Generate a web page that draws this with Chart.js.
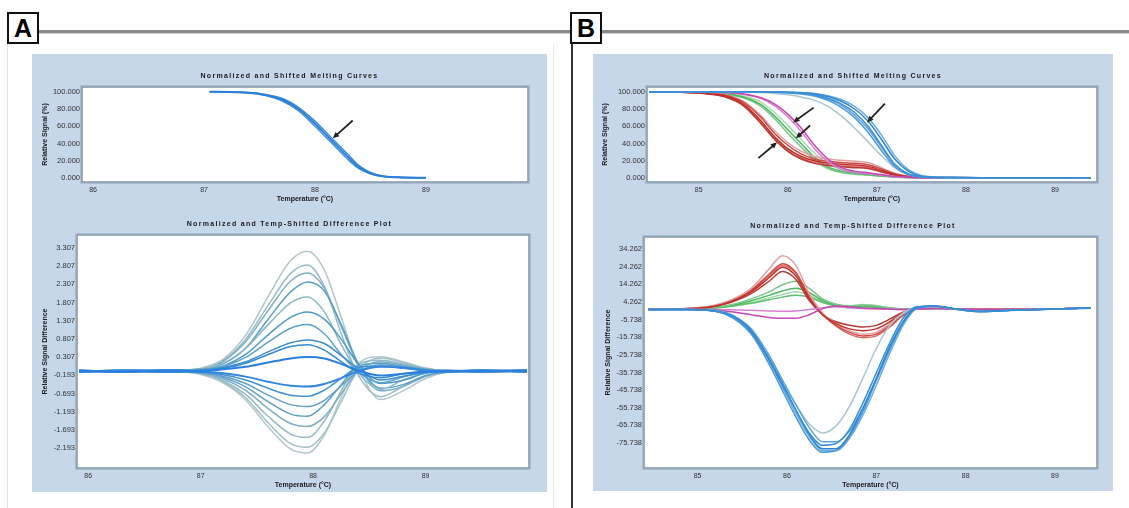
<!DOCTYPE html>
<html>
<head>
<meta charset="utf-8">
<script src="https://cdn.jsdelivr.net/npm/chart.js@4.4.1/dist/chart.umd.min.js"></script>
<style>
  body { margin: 0; width: 1129px; height: 508px; background: #fff; position: relative; overflow: hidden; }
  .panel { position: absolute; background: #c6d7ea; }
  .tag { position: absolute; width: 28px; height: 28px; border: 2px solid #111; background: #fff;
         font: bold 25px "Liberation Sans", Arial, sans-serif; line-height: 29px; text-align: center; color: #000; }
  .rule { position: absolute; }
  canvas { position: absolute; }
</style>
</head>
<body>
<div class="rule" style="left:39px;top:30px;width:1090px;height:3px;background:#8a8a8a"></div>
<div class="rule" style="left:39px;top:33px;width:1090px;height:1px;background:#cfcfcf"></div>
<div class="rule" style="left:571px;top:44px;width:2px;height:464px;background:#333"></div>
<div class="rule" style="left:7px;top:44px;width:1px;height:464px;background:#e2e2e2"></div>
<div class="rule" style="left:553px;top:44px;width:1px;height:464px;background:#e6e6e6"></div>
<div class="tag" style="left:7px;top:12px">A</div>
<div class="tag" style="left:570px;top:12px">B</div>

<div class="panel" style="left:32px;top:54px;width:515px;height:438px"></div>
<div class="panel" style="left:593px;top:54px;width:520px;height:437px"></div>

<canvas id="a-melt" width="515" height="150" style="left:32px;top:53px"></canvas>
<canvas id="a-diff" width="515" height="284" style="left:32px;top:205px"></canvas>
<canvas id="b-melt" width="520" height="150" style="left:593px;top:53px"></canvas>
<canvas id="b-diff" width="520" height="284" style="left:593px;top:205px"></canvas>

<script>
// Panel A and B: normalized melting curves (top) and difference plots (bottom).
// Values.

var xTicksA = [86, 87, 88, 89];
var xTicksB = [85, 86, 87, 88, 89];
var meltTicks = [0, 20, 40, 60, 80, 100];
var diffTicksA = [-2.193, -1.693, -1.193, -0.693, -0.193, 0.307, 0.807, 1.307, 1.807, 2.307, 2.807, 3.307];
var diffTicksB = [-75.738, -65.738, -55.738, -45.738, -35.738, -25.738, -15.738, -5.738, 4.262, 14.262, 24.262, 34.262];

// --- A, melting curves ---
var meltTempsA = [87.05, 87.3, 87.5, 87.7, 87.85, 88.0, 88.1, 88.2, 88.3, 88.4, 88.5, 88.6, 88.75, 89.0];
var meltA1 = [100, 99.5, 97.5, 91, 80, 63, 50, 37, 24, 12, 5.5, 2.2, 0.8, 0.3];
var meltA2 = [100, 99.6, 98, 92.5, 82, 66, 53, 40, 27, 14, 6.5, 2.6, 0.9, 0.3];
var meltA3 = [100, 99.4, 97, 89.5, 78, 60, 47, 34, 21, 10.5, 4.8, 1.9, 0.7, 0.3];

// --- A, difference plot ---
var diffTempsA = [85.92, 86.3, 86.7, 87.0, 87.2, 87.4, 87.6, 87.8, 87.95, 88.1, 88.25, 88.4, 88.6, 88.8, 89.0, 89.2, 89.5, 89.9];
var posA1 = [-0.05, -0.10, -0.09, 0.00, 0.25, 0.91, 1.97, 2.96, 3.22, 2.70, 1.40, 0.05, -0.86, -0.62, -0.28, -0.10, -0.06, -0.09];
var posA2 = [-0.10, -0.06, -0.11, -0.03, 0.21, 0.80, 1.73, 2.61, 2.84, 2.25, 0.95, -0.18, -0.78, -0.50, -0.22, -0.11, -0.09, -0.05];
var posA3 = [-0.07, -0.11, -0.06, -0.05, 0.19, 0.73, 1.59, 2.40, 2.62, 2.20, 1.15, 0.10, -0.62, -0.50, -0.22, -0.06, -0.10, -0.08];
var posA4 = [-0.11, -0.05, -0.09, -0.06, 0.12, 0.55, 1.35, 2.10, 2.37, 2.12, 1.20, 0.15, -0.55, -0.45, -0.20, -0.10, -0.07, -0.06];
var posA5 = [-0.06, -0.09, -0.05, -0.02, 0.14, 0.55, 1.20, 1.80, 1.96, 1.55, 0.65, -0.12, -0.58, -0.32, -0.12, -0.05, -0.10, -0.09];
var posA6 = [-0.09, -0.06, -0.10, -0.07, 0.06, 0.38, 0.92, 1.40, 1.55, 1.35, 0.80, 0.12, -0.42, -0.33, -0.14, -0.09, -0.05, -0.08];
var posA7 = [-0.10, -0.07, -0.06, -0.03, 0.05, 0.30, 0.72, 1.10, 1.20, 0.95, 0.38, -0.10, -0.40, -0.24, -0.10, -0.06, -0.09, -0.07];
var posA8 = [-0.06, -0.10, -0.08, -0.08, 0.02, 0.18, 0.45, 0.70, 0.78, 0.68, 0.35, 0.00, -0.32, -0.22, -0.11, -0.09, -0.06, -0.10];
var posA9 = [-0.09, -0.06, -0.11, -0.05, 0.00, 0.14, 0.38, 0.60, 0.65, 0.50, 0.18, -0.12, -0.26, -0.15, -0.08, -0.07, -0.10, -0.07];
var posA10 = [-0.07, -0.10, -0.07, -0.08, -0.03, 0.04, 0.16, 0.27, 0.31, 0.27, 0.12, -0.06, -0.20, -0.15, -0.10, -0.08, -0.06, -0.09];
var negA1 = [-0.10, -0.07, -0.05, -0.09, -0.14, -0.23, -0.37, -0.48, -0.50, -0.43, -0.27, -0.08, 0.04, 0.02, -0.06, -0.09, -0.08, -0.05];
var negA2 = [-0.06, -0.09, -0.10, -0.11, -0.18, -0.32, -0.55, -0.74, -0.77, -0.60, -0.28, 0.02, 0.06, 0.00, -0.07, -0.10, -0.06, -0.09];
var negA3 = [-0.09, -0.05, -0.08, -0.12, -0.22, -0.42, -0.74, -1.00, -1.05, -0.88, -0.48, -0.10, 0.10, 0.05, -0.04, -0.07, -0.10, -0.06];
var negA4 = [-0.05, -0.10, -0.07, -0.10, -0.25, -0.51, -0.92, -1.26, -1.32, -1.00, -0.45, 0.06, 0.14, 0.05, -0.03, -0.08, -0.07, -0.10];
var negA5 = [-0.11, -0.07, -0.09, -0.13, -0.29, -0.61, -1.11, -1.52, -1.60, -1.33, -0.70, -0.08, 0.18, 0.09, -0.02, -0.10, -0.05, -0.08];
var negA6 = [-0.07, -0.10, -0.06, -0.15, -0.34, -0.72, -1.32, -1.81, -1.90, -1.45, -0.62, 0.10, 0.22, 0.12, -0.01, -0.06, -0.09, -0.06];
var negA7 = [-0.09, -0.06, -0.10, -0.14, -0.37, -0.81, -1.50, -2.07, -2.17, -1.78, -0.92, -0.05, 0.28, 0.16, 0.00, -0.09, -0.07, -0.10];
var negA8 = [-0.06, -0.09, -0.07, -0.17, -0.40, -0.87, -1.61, -2.22, -2.33, -1.84, -0.80, 0.12, 0.32, 0.18, 0.01, -0.07, -0.10, -0.06];

// --- B, melting curves ---
var meltTempsB = [84.45, 84.8, 85.1, 85.3, 85.5, 85.7, 85.85, 86.0, 86.15, 86.3, 86.45, 86.6, 86.75, 86.9, 87.05, 87.2, 87.35, 87.5, 87.8, 88.3, 89.0, 89.4];
var meltBlue1 = [100, 100, 100, 100, 100, 99.8, 99.6, 99.2, 98.5, 96.5, 92.5, 86, 76, 60, 38, 16, 5, 1.5, 0.5, 0.3, 0.3, 0.2];
var meltBlue2 = [100, 100, 100, 100, 99.8, 99.6, 99.3, 98.7, 97.5, 95, 90, 82, 70, 53, 32, 13, 4, 1.2, 0.4, 0.3, 0.2, 0.2];
var meltBlue3 = [100, 100, 100, 100, 100, 99.9, 99.7, 99.4, 98.8, 97.5, 94.5, 89, 80, 66, 45, 22, 8, 2.2, 0.6, 0.4, 0.3, 0.3];
var meltBlue4 = [100, 100, 100, 100, 100, 99.8, 99.5, 99, 98, 96, 91.5, 84.5, 73, 57, 36, 15, 4.5, 1.4, 0.5, 0.3, 0.2, 0.2];
var meltBlue5 = [100, 100, 100, 100, 100, 99.9, 99.8, 99.5, 99, 98, 95.5, 91, 83, 70, 50, 26, 10, 3, 0.8, 0.4, 0.3, 0.3];
var meltBlue6 = [100, 100, 100, 99.8, 99.5, 99, 98, 96.5, 94, 90, 83, 72, 58, 42, 26, 12, 4, 1.2, 0.4, 0.3, 0.2, 0.2];
var meltRed1 = [100, 99.5, 98, 95, 86, 66, 48, 34, 25, 20, 17.5, 16, 15, 13.5, 9, 4, 1.5, 0.6, 0.4, 0.3, 0.3, 0.3];
var meltRed2 = [100, 99.6, 98.5, 96, 88, 70, 52, 38, 28, 22, 19.5, 18, 17, 15.5, 10.5, 5, 2, 0.8, 0.5, 0.4, 0.3, 0.3];
var meltRed3 = [100, 99.3, 97.5, 94, 84, 63, 45, 31, 22, 17, 14.5, 13, 12, 11, 7, 3.5, 1.2, 0.5, 0.4, 0.3, 0.3, 0.3];
var meltRed4 = [100, 99.7, 98.8, 96.5, 89, 72, 55, 41, 31, 25, 22, 20.5, 19.5, 18, 12, 5.5, 2, 0.8, 0.5, 0.4, 0.3, 0.3];
var meltRed5 = [100, 99.4, 97.8, 94.5, 85, 64, 46, 32, 23, 18, 15.5, 14, 13, 12, 8, 3.8, 1.3, 0.5, 0.4, 0.3, 0.3, 0.3];
var meltGreen1 = [100, 99.7, 99, 97.5, 94, 85, 72, 56, 40, 24, 13, 8, 5.5, 4, 2.5, 1.2, 0.6, 0.4, 0.3, 0.3, 0.3, 0.3];
var meltGreen2 = [100, 99.6, 98.8, 97, 93, 83, 69, 52, 36, 21, 11, 6.5, 4.5, 3.5, 2, 1, 0.5, 0.3, 0.3, 0.3, 0.3, 0.3];
var meltGreen3 = [100, 99.8, 99.3, 98, 95, 88, 76, 61, 45, 29, 16, 10, 7, 5, 3, 1.5, 0.7, 0.4, 0.3, 0.3, 0.3, 0.3];
var meltPink1 = [100, 99.9, 99.6, 99, 97.5, 93, 86, 74, 58, 38, 22, 12, 8, 6, 4, 2, 0.8, 0.4, 0.3, 0.3, 0.3, 0.3];
var meltPink2 = [100, 99.9, 99.5, 98.7, 97, 92, 84, 71, 54, 34, 19, 10, 6.5, 5, 3.2, 1.6, 0.7, 0.4, 0.3, 0.3, 0.3, 0.3];

// --- B, difference plot ---
var diffTempsB = [84.45, 84.9, 85.2, 85.4, 85.6, 85.8, 85.95, 86.1, 86.25, 86.4, 86.55, 86.7, 86.85, 87.0, 87.15, 87.3, 87.45, 87.65, 87.9, 88.15, 88.5, 89.0, 89.4];
var diffBlue1 = [0, 0, -1, -4, -13, -29, -43, -57, -70, -77, -76, -68, -53, -36, -19, -5, 1.5, 2, 0, -1.2, -0.5, 0.3, 0.8];
var diffBlue2 = [0, 0, -1, -4, -12, -28, -42, -57, -71, -79, -79, -71, -56, -39, -21, -7, 1, 2, 0.2, -1, -0.5, 0.3, 0.8];
var diffBlue3 = [0, 0, -1, -5, -14, -31, -46, -61, -74, -81, -80, -72, -58, -40, -22, -7, 1, 2, 0.3, -1.3, -0.6, 0.2, 0.7];
var diffBlue4 = [0, 0, -0.5, -3.5, -11, -26, -40, -54, -67, -75, -75, -69, -56, -40, -23, -8, 0.5, 1.8, 0.3, -1.2, -0.5, 0.3, 0.8];
var diffBlue5 = [0, 0, -1, -4.5, -13, -29, -44, -59, -72, -80, -80, -73, -60, -43, -25, -9, 0.5, 1.8, 0.2, -1.1, -0.5, 0.2, 0.7];
var diffBlue6 = [0, 0, -1, -4, -12, -27, -41, -54, -65, -70, -66, -55, -39, -22, -9, -2, 1, 1.5, 0.2, -1, -0.5, 0.3, 0.8];
var diffRed1 = [0, 0.5, 2, 5, 10, 18, 24, 19, 6, -3, -8, -11, -12, -11, -7, -2, 0.5, 0.8, 0.3, 0, 0, 0.3, 0.8];
var diffRed2 = [0, 0.5, 2.5, 6, 12, 23, 30.5, 25, 9, -2, -8, -12, -14, -13, -8, -2.5, 0.3, 0.8, 0.3, 0, 0, 0.3, 0.8];
var diffRed3 = [0, 0.5, 2.2, 5.5, 11, 20, 26, 21, 7, -3, -9, -13, -15, -14, -9, -3, 0.3, 0.8, 0.3, 0, 0, 0.3, 0.8];
var diffRed4 = [0, 0.4, 1.8, 4.5, 9, 16, 21.5, 17, 5, -3, -7, -9, -10, -9, -5.5, -1.5, 0.5, 0.8, 0.3, 0, 0, 0.3, 0.8];
var diffRed5 = [0, 0.5, 2, 5, 10.5, 19, 25, 20.5, 7.5, -2.5, -9.5, -14, -16, -15, -10, -3.5, 0.2, 0.8, 0.3, 0, 0, 0.3, 0.8];
var diffGreen1 = [0, 0.3, 1.2, 3, 6, 10, 14, 16, 12, 6, 3, 2, 2.5, 2, 1, 0.3, 0.2, 0.5, 0.3, 0, 0, 0.3, 0.8];
var diffGreen2 = [0, 0.3, 1, 2.5, 5, 8, 10.5, 12, 9.5, 5, 2.5, 1.5, 2, 1.5, 0.8, 0.2, 0.2, 0.5, 0.3, 0, 0, 0.3, 0.8];
var diffGreen3 = [0, 0.2, 0.8, 2, 3.5, 5.5, 7, 8, 7, 4, 2, 1, 1.5, 1.2, 0.6, 0.2, 0.2, 0.5, 0.3, 0, 0, 0.3, 0.8];
var diffGreen4 = [0, 0.3, 1, 2.2, 4, 6.5, 8.5, 10, 8, 4.5, 2.5, 2, 2.8, 2.2, 1, 0.3, 0.2, 0.5, 0.3, 0, 0, 0.3, 0.8];
var diffPink1 = [0, 0, -0.5, -1.5, -3, -4.5, -5, -5, -3, 0.5, 2, 1.5, 0.8, 0.5, 0.2, 0, 0.2, 0.5, 0.3, 0, 0, 0.3, 0.8];
var diffPink2 = [0, 0, 0, -0.2, -0.5, -0.8, -1, -0.8, 0, 1, 1.5, 1, 0.5, 0.3, 0.1, 0, 0.2, 0.5, 0.3, 0, 0, 0.3, 0.8];

// Arrows as [fromT, fromY, toT, toY] in data units
var arrowsA = [[88.34, 66.7, 88.16, 46]];
var arrowsB = [[86.29, 81.6, 86.06, 64.4], [86.25, 60.9, 86.09, 46], [85.67, 23, 85.88, 41.4], [87.09, 86.2, 86.89, 64.4]];

var FONT = '"Liberation Sans", Arial, sans-serif';

function line(temps, values, color, width) {
  return {
    data: temps.map(function (t, i) { return { x: t, y: values[i] }; }),
    borderColor: color,
    borderWidth: width || 1.5,
    pointRadius: 0,
    fill: false,
    cubicInterpolationMode: 'monotone'
  };
}

function drawArrow(ctx, x1, y1, x2, y2) {
  var ang = Math.atan2(y2 - y1, x2 - x1);
  var head = 7;
  ctx.beginPath();
  ctx.moveTo(x1, y1);
  ctx.lineTo(x2 - Math.cos(ang) * head * 0.7, y2 - Math.sin(ang) * head * 0.7);
  ctx.stroke();
  ctx.beginPath();
  ctx.moveTo(x2, y2);
  ctx.lineTo(x2 - head * Math.cos(ang - 0.42), y2 - head * Math.sin(ang - 0.42));
  ctx.lineTo(x2 - head * Math.cos(ang + 0.42), y2 - head * Math.sin(ang + 0.42));
  ctx.closePath();
  ctx.fill();
}

var framePlugin = {
  id: 'frame',
  beforeDatasetsDraw: function (chart) {
    var a = chart.chartArea, ctx = chart.ctx;
    ctx.save();
    ctx.fillStyle = '#ffffff';
    ctx.fillRect(a.left, a.top, a.right - a.left, a.bottom - a.top);
    ctx.restore();
  },
  afterDraw: function (chart, args, opts) {
    var a = chart.chartArea, ctx = chart.ctx;
    ctx.save();
    ctx.strokeStyle = '#8494a6';
    ctx.lineWidth = 1.5;
    ctx.strokeRect(a.left, a.top, a.right - a.left, a.bottom - a.top);
    ctx.strokeStyle = 'rgba(120,140,160,0.35)';
    ctx.lineWidth = 1;
    ctx.strokeRect(a.left - 1.5, a.top - 1.5, a.right - a.left + 3, a.bottom - a.top + 3);

    ctx.fillStyle = '#1a1a1a';
    ctx.font = 'bold 7px ' + FONT;
    if ('letterSpacing' in ctx) ctx.letterSpacing = '1.3px';
    ctx.textAlign = 'center';
    ctx.textBaseline = 'middle';
    ctx.fillText(opts.title, chart.width / 2, a.top - 11);
    if ('letterSpacing' in ctx) ctx.letterSpacing = '0px';

    var xs = chart.scales.x, ys = chart.scales.y;
    ctx.strokeStyle = '#222';
    ctx.fillStyle = '#222';
    ctx.lineWidth = 1.8;
    (opts.arrows || []).forEach(function (ar) {
      drawArrow(ctx, xs.getPixelForValue(ar[0]), ys.getPixelForValue(ar[1]),
        xs.getPixelForValue(ar[2]), ys.getPixelForValue(ar[3]));
    });
    ctx.restore();
  }
};

function buildChart(id, cfg) {
  return new Chart(document.getElementById(id), {
    type: 'line',
    data: { datasets: cfg.datasets },
    options: {
      responsive: false,
      animation: false,
      events: [],
      layout: { padding: { top: cfg.padTop, right: cfg.padRight, left: 0, bottom: 0 } },
      plugins: {
        legend: { display: false },
        tooltip: { enabled: false },
        frame: { title: cfg.title, arrows: cfg.arrows }
      },
      scales: {
        x: {
          type: 'linear',
          min: cfg.xMin,
          max: cfg.xMax,
          afterFit: function (s) { s.height = 21; },
          afterBuildTicks: function (s) { s.ticks = cfg.xTicks.map(function (v) { return { value: v }; }); },
          grid: { display: false, drawTicks: false },
          border: { display: false },
          ticks: { autoSkip: false, maxRotation: 0, padding: 4, color: '#333', font: { size: 7, family: FONT },
                   callback: function (v) { return String(v); } },
          title: { display: true, text: 'Temperature (°C)', color: '#1a1a1a',
                   font: { size: 7, weight: 'bold', family: FONT }, padding: { top: 0, bottom: 0 } }
        },
        y: {
          type: 'linear',
          min: cfg.yMin,
          max: cfg.yMax,
          afterFit: function (s) { s.width = cfg.yWidth; },
          afterBuildTicks: function (s) { s.ticks = cfg.yTicks.map(function (v) { return { value: v }; }); },
          grid: { display: false, drawTicks: false },
          border: { display: false },
          ticks: { autoSkip: false, padding: 2, color: '#333', font: { size: 7.5, family: FONT },
                   callback: function (v) { return Number(v).toFixed(3); } },
          title: { display: true, text: cfg.yTitle, color: '#1a1a1a',
                   font: { size: 7, weight: 'bold', family: FONT }, padding: { top: cfg.yTitlePad, bottom: 0 } }
        }
      }
    },
    plugins: [framePlugin]
  });
}

document.addEventListener('DOMContentLoaded', function () {
  buildChart('a-melt', {
    title: 'Normalized and Shifted Melting Curves',
    yTitle: 'Relative Signal (%)',
    xMin: 85.9, xMax: 89.92, yMin: -4.6, yMax: 105.5,
    xTicks: xTicksA, yTicks: meltTicks,
    padTop: 34, padRight: 19, yWidth: 50, yTitlePad: 9,
    arrows: arrowsA,
    datasets: [
      line(meltTempsA, meltA1, '#2a7fd8', 2),
      line(meltTempsA, meltA2, '#3b8cd6', 1.5),
      line(meltTempsA, meltA3, '#4a94d2', 1.5)
    ]
  });

  buildChart('a-diff', {
    title: 'Normalized and Temp-Shifted Difference Plot',
    yTitle: 'Relative Signal Difference',
    xMin: 85.9, xMax: 89.92, yMin: -2.742, yMax: 3.664,
    xTicks: xTicksA, yTicks: diffTicksA,
    padTop: 30, padRight: 18, yWidth: 45, yTitlePad: 9,
    arrows: [],
    datasets: [
      line(diffTempsA, posA10, '#2a80e0', 2),
      line(diffTempsA, negA1, '#2f86dc', 2),
      line(diffTempsA, posA9, '#3489d6'),
      line(diffTempsA, negA2, '#4592cf'),
      line(diffTempsA, posA8, '#3f8ed2'),
      line(diffTempsA, posA7, '#5fa2c9'),
      line(diffTempsA, negA3, '#62a2c8'),
      line(diffTempsA, posA6, '#4e9acb'),
      line(diffTempsA, negA4, '#5b9fca'),
      line(diffTempsA, posA5, '#8fb8c8'),
      line(diffTempsA, negA5, '#7eaec6'),
      line(diffTempsA, posA4, '#5aa0c8'),
      line(diffTempsA, negA6, '#93bac6'),
      line(diffTempsA, posA3, '#7fb0c8'),
      line(diffTempsA, negA7, '#a3c1c8'),
      line(diffTempsA, posA2, '#98bcc8'),
      line(diffTempsA, negA8, '#b3c9cc'),
      line(diffTempsA, posA1, '#b1c6ca')
    ]
  });

  buildChart('b-melt', {
    title: 'Normalized and Shifted Melting Curves',
    yTitle: 'Relative Signal (%)',
    xMin: 84.42, xMax: 89.47, yMin: -4.6, yMax: 105.5,
    xTicks: xTicksB, yTicks: meltTicks,
    padTop: 34, padRight: 16, yWidth: 54, yTitlePad: 8,
    arrows: arrowsB,
    datasets: [
      line(meltTempsB, meltBlue1, '#3a8ed6'),
      line(meltTempsB, meltBlue2, '#4a9ad8'),
      line(meltTempsB, meltBlue3, '#2f84d0'),
      line(meltTempsB, meltBlue4, '#5ba3d9'),
      line(meltTempsB, meltBlue5, '#6aaee0'),
      line(meltTempsB, meltBlue6, '#a9c6d4'),
      line(meltTempsB, meltPink1, '#c448b4'),
      line(meltTempsB, meltPink2, '#d880cc'),
      line(meltTempsB, meltRed1, '#c0302a'),
      line(meltTempsB, meltRed2, '#cc4a44'),
      line(meltTempsB, meltRed3, '#b83a36'),
      line(meltTempsB, meltRed4, '#e2a0a0'),
      line(meltTempsB, meltRed5, '#d86a66'),
      line(meltTempsB, meltGreen1, '#4cb860'),
      line(meltTempsB, meltGreen2, '#7cc888'),
      line(meltTempsB, meltGreen3, '#a8dcb0')
    ]
  });

  buildChart('b-diff', {
    title: 'Normalized and Temp-Shifted Difference Plot',
    yTitle: 'Relative Signal Difference',
    xMin: 84.4, xMax: 89.47, yMin: -89.9, yMax: 41.1,
    xTicks: xTicksB, yTicks: diffTicksB,
    padTop: 32, padRight: 16, yWidth: 51, yTitlePad: 11,
    arrows: [],
    datasets: [
      line(diffTempsB, diffBlue1, '#3a8ed6'),
      line(diffTempsB, diffBlue2, '#2f84d0'),
      line(diffTempsB, diffBlue3, '#4a9ad8'),
      line(diffTempsB, diffBlue4, '#5ba3d9'),
      line(diffTempsB, diffBlue5, '#6aaee0'),
      line(diffTempsB, diffBlue6, '#a9c6d4'),
      line(diffTempsB, diffPink1, '#c448b4'),
      line(diffTempsB, diffPink2, '#d880cc'),
      line(diffTempsB, diffRed1, '#c0302a'),
      line(diffTempsB, diffRed2, '#e2a0a0'),
      line(diffTempsB, diffRed3, '#cc4a44'),
      line(diffTempsB, diffRed4, '#b83a36'),
      line(diffTempsB, diffRed5, '#d86a66'),
      line(diffTempsB, diffGreen1, '#7cc888'),
      line(diffTempsB, diffGreen2, '#4cb860'),
      line(diffTempsB, diffGreen3, '#5fbf70'),
      line(diffTempsB, diffGreen4, '#a8dcb0')
    ]
  });
});
</script>
</body>
</html>
